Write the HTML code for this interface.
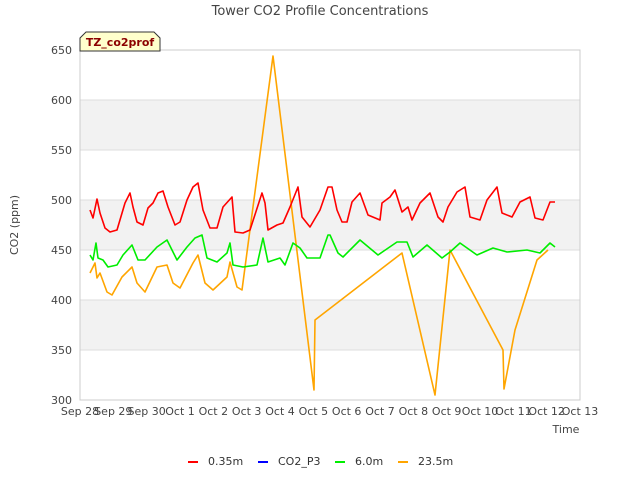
<!DOCTYPE html>
<html><head><meta charset="utf-8"><style>
body{margin:0;background:#fff;font-family:"Liberation Sans","DejaVu Sans",sans-serif}
svg text{font-family:"DejaVu Sans","Liberation Sans",sans-serif}
</style></head><body>
<svg id="c" width="640" height="480" xmlns="http://www.w3.org/2000/svg">
<rect width="640" height="480" fill="#fff"/>
<text x="320" y="15" text-anchor="middle" font-size="13" fill="#444">Tower CO2 Profile Concentrations</text>
<text x="18" y="225" text-anchor="middle" font-size="11" fill="#444" transform="rotate(-90 18 225)">CO2 (ppm)</text>
<text x="566" y="433" text-anchor="middle" font-size="11" fill="#444">Time</text>
<g id="grid"></g>
<g id="plot"></g>
<g>
<path d="M80,38 L86,32 L154,32 L160,38 L160,51 L80,51 Z" fill="#ffffcc" stroke="#333" stroke-width="1"/>
<text x="120" y="46" text-anchor="middle" font-size="11" font-weight="bold" fill="#8b0000">TZ_co2prof</text>
</g>
<g>
<g><line x1="188" y1="462" x2="198" y2="462" stroke="#ff0000" stroke-width="2"/><text x="208" y="465" font-size="11" fill="#333">0.35m</text></g>
<g><line x1="258" y1="462" x2="268" y2="462" stroke="#0000ff" stroke-width="2"/><text x="278" y="465" font-size="11" fill="#333">CO2_P3</text></g>
<g><line x1="335" y1="462" x2="345" y2="462" stroke="#00ee00" stroke-width="2"/><text x="355" y="465" font-size="11" fill="#333">6.0m</text></g>
<g><line x1="398" y1="462" x2="408" y2="462" stroke="#ffa500" stroke-width="2"/><text x="418" y="465" font-size="11" fill="#333">23.5m</text></g>
</g>
</svg>
<script>
const xTickLabels=["Sep 28","Sep 29","Sep 30","Oct 1","Oct 2","Oct 3","Oct 4","Oct 5","Oct 6","Oct 7","Oct 8","Oct 9","Oct 10","Oct 11","Oct 12","Oct 13"];
const yTicks=[300,350,400,450,500,550,600,650];
const redDays=[0.30,0.39,0.51,0.60,0.75,0.90,1.11,1.35,1.50,1.59,1.71,1.89,2.04,2.19,2.34,2.49,2.64,2.85,3.00,3.21,3.39,3.54,3.69,3.90,4.11,4.29,4.56,4.65,4.89,5.10,5.46,5.55,5.64,5.91,6.09,6.30,6.54,6.66,6.90,7.20,7.44,7.56,7.71,7.86,8.01,8.16,8.40,8.64,9.00,9.06,9.30,9.45,9.66,9.84,9.96,10.20,10.50,10.74,10.89,11.04,11.31,11.55,11.70,12.00,12.21,12.51,12.66,12.96,13.20,13.50,13.65,13.89,14.10,14.25];
const redVals=[490,482,501,487,472,468,470,497,507,493,478,475,492,497,507,509,493,475,478,500,513,517,490,472,472,493,503,468,467,470,507,497,470,475,477,493,513,483,473,490,513,513,490,478,478,498,507,485,480,497,503,510,488,493,480,497,507,483,478,493,508,513,483,480,500,513,487,483,498,503,482,480,498,498];
const greenDays=[0.30,0.39,0.48,0.54,0.69,0.84,1.11,1.29,1.56,1.74,1.95,2.31,2.61,2.76,2.91,3.21,3.45,3.66,3.81,4.11,4.41,4.50,4.59,4.89,5.31,5.49,5.64,6.00,6.15,6.39,6.60,6.81,7.20,7.44,7.50,7.74,7.89,8.40,8.94,9.51,9.81,9.99,10.41,10.86,11.10,11.40,11.91,12.39,12.81,13.41,13.80,14.10,14.25];
const greenVals=[445,440,457,442,440,433,435,445,455,440,440,453,460,450,440,453,462,465,442,438,447,457,435,433,435,462,438,442,435,457,452,442,442,465,465,447,443,460,445,458,458,443,455,442,448,457,445,452,448,450,447,457,453];
const orangeDays=[0.30,0.45,0.51,0.60,0.81,0.96,1.26,1.56,1.71,1.95,2.31,2.61,2.79,3.00,3.39,3.54,3.75,3.99,4.41,4.50,4.71,4.86,5.79,7.02,7.05,9.66,10.65,11.10,12.69,12.72,13.05,13.71,14.04];
const orangeVals=[427,437,422,427,408,405,423,433,417,408,433,435,417,412,437,445,417,410,423,438,413,410,644,310,380,447,305,450,350,311,370,440,450];
const X0=80,X1=580,Y0=400,Y1=50;
const xs=d=>X0+(X1-X0)*d/15;
const ys=v=>Y0-(Y0-Y1)*(v-300)/350;
const NS="http://www.w3.org/2000/svg";
const grid=document.getElementById('grid'),plot=document.getElementById('plot');
function mk(t,a,p){const e=document.createElementNS(NS,t);for(const k in a)e.setAttribute(k,a[k]);p.appendChild(e);return e;}
for(let i=0;i<yTicks.length-1;i++){if(i%2===1){const r=mk('rect',{x:X0,y:ys(yTicks[i+1]),width:X1-X0,height:ys(yTicks[i])-ys(yTicks[i+1]),fill:'#f2f2f2'},grid);

}}
yTicks.forEach(v=>{const l=mk('line',{x1:X0,x2:X1,y1:ys(v),y2:ys(v),stroke:'#ddd','stroke-width':1},grid);


const t=mk('text',{x:X0-8,y:ys(v)+4,'text-anchor':'end','font-size':11,fill:'#444'},grid);t.textContent=v;

});
mk('rect',{x:X0,y:Y1,width:X1-X0,height:Y0-Y1,fill:'none',stroke:'#ccc'},grid);
xTickLabels.forEach((s,i)=>{const t=mk('text',{x:xs(i),y:Y0+15,'text-anchor':'middle','font-size':11,fill:'#444'},grid);t.textContent=s;

});
function series(days,vals,color,name){const d=days.map((x,i)=>(i?'L':'M')+xs(x).toFixed(1)+','+ys(vals[i]).toFixed(1)).join(' ');
const p=mk('path',{d:d,fill:'none',stroke:color,'stroke-width':1.6,'stroke-linejoin':'round'},plot);

}
series(orangeDays,orangeVals,'#ffa500','series-23.5m');
series(greenDays,greenVals,'#00ee00','series-6.0m');
series(redDays,redVals,'#ff0000','series-0.35m');
</script>
</body></html>
